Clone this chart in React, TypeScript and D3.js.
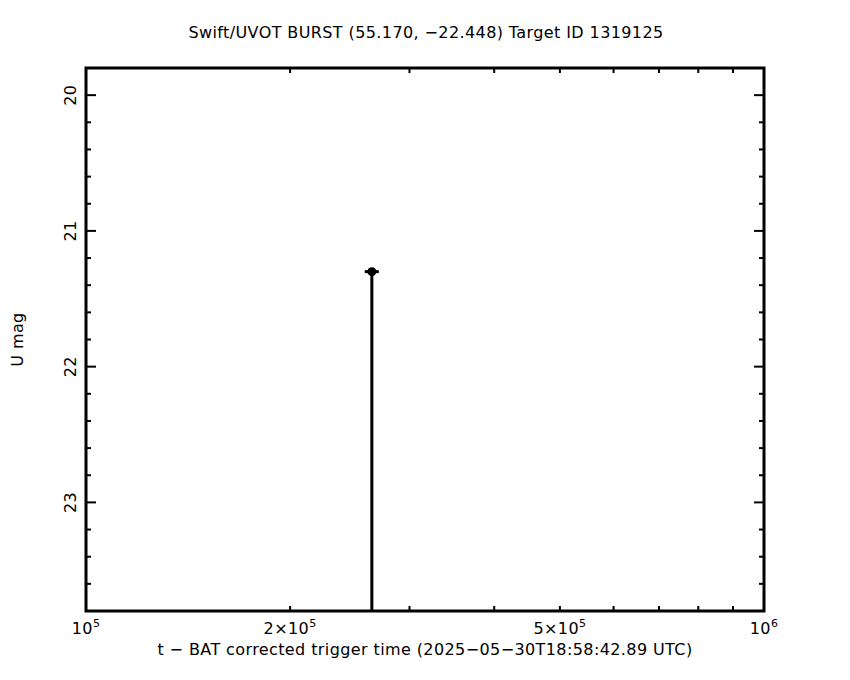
import * as d3 from 'd3';
import React, { useRef, useEffect } from 'react';

const title = "Swift/UVOT BURST (55.170, \u221222.448) Target ID 1319125";
const xTitle = "t \u2212 BAT corrected trigger time (2025\u221205\u221230T18:58:42.89 UTC)";
const yTitle = "U mag";

const xDomain = [1e5, 1e6];
const yDomain = [19.8, 23.8];
const xMajor = [
  { v: 1e5, m: "", e: "5" },
  { v: 2e5, m: "2\u00d7", e: "5" },
  { v: 5e5, m: "5\u00d7", e: "5" },
  { v: 1e6, m: "", e: "6" },
];
const yMajor = [20, 21, 22, 23];

// observations
const times = [264000];
const timeErr = [6300];
const mags = [21.3];
const magErrBright = [0.02];
const magErrFaint = [3.0];

function App() {
  const ref = useRef<SVGSVGElement>(null);
  const width = 850, height = 680;

  useEffect(() => {
    const svg = d3.select(ref.current);
    svg.selectAll("*").remove();
    const margin = { top: 68, right: 86, bottom: 69, left: 86 };
    const x = d3.scaleLog().domain(xDomain).range([margin.left, width - margin.right]);
    const y = d3.scaleLinear().domain(yDomain).range([margin.top, height - margin.bottom]);
    const font = "'DejaVu Sans', Verdana, sans-serif";

    svg.append("rect").attr("width", width).attr("height", height).attr("fill", "white");

    const g = svg.append("g").attr("stroke", "black").attr("stroke-width", 2);
    const [x0, x1] = x.range();
    const [y0, y1] = y.range();

    // x ticks (bottom and top), all short
    const xMinor = d3.range(2, 10).map(d => d * 1e5);
    xMinor.forEach(v => {
      g.append("line").attr("x1", x(v)).attr("x2", x(v)).attr("y1", y1).attr("y2", y1 - 5);
      g.append("line").attr("x1", x(v)).attr("x2", x(v)).attr("y1", y0).attr("y2", y0 + 5);
    });

    // y ticks (left and right)
    const yMinor = d3.range(20, 23.81, 0.2).map(v => +v.toFixed(1));
    yMinor.forEach(v => {
      const len = yMajor.includes(v) ? 10 : 5;
      g.append("line").attr("x1", x0).attr("x2", x0 + len).attr("y1", y(v)).attr("y2", y(v));
      g.append("line").attr("x1", x1).attr("x2", x1 - len).attr("y1", y(v)).attr("y2", y(v));
    });

    // frame
    svg.append("rect")
      .attr("x", x0).attr("y", y0).attr("width", x1 - x0).attr("height", y1 - y0)
      .attr("fill", "none").attr("stroke", "black").attr("stroke-width", 3);

    const xl = svg.append("g").attr("font-family", font).attr("font-size", 16)
      .attr("letter-spacing", 0.4).attr("fill", "black");

    // x tick labels
    xMajor.forEach(t => {
      const txt = xl.append("text").attr("x", x(t.v)).attr("y", y1 + 23).attr("text-anchor", "middle");
      txt.append("tspan").text(t.m + "10");
      txt.append("tspan").attr("dy", -7).attr("font-size", 11).text(t.e);
    });

    // y tick labels
    yMajor.forEach(v => {
      xl.append("text")
        .attr("transform", `translate(${x0 - 10},${y(v)}) rotate(-90)`)
        .attr("text-anchor", "middle")
        .text(String(v));
    });

    // titles
    xl.append("text").attr("x", (x0 + x1) / 2).attr("y", y1 + 44).attr("text-anchor", "middle").text(xTitle);
    xl.append("text").attr("x", width / 2 + 1).attr("y", 38).attr("text-anchor", "middle").text(title);
    xl.append("text")
      .attr("transform", `translate(23,${(y0 + y1) / 2}) rotate(-90)`)
      .attr("text-anchor", "middle").text(yTitle);

    // data
    const pts = svg.append("g").attr("stroke", "black").attr("stroke-width", 3);
    times.forEach((t, i) => {
      pts.append("line")
        .attr("x1", x(t - timeErr[i])).attr("x2", x(t + timeErr[i]))
        .attr("y1", y(mags[i])).attr("y2", y(mags[i]));
      pts.append("line")
        .attr("x1", x(t)).attr("x2", x(t))
        .attr("y1", y(mags[i] - magErrBright[i])).attr("y2", Math.min(y(mags[i] + magErrFaint[i]), y1));
      pts.append("circle").attr("cx", x(t)).attr("cy", y(mags[i])).attr("r", 4.5)
        .attr("fill", "black").attr("stroke", "none");
    });
  }, []);

  return (
    <svg ref={ref} width={width} height={height}
      style={{ position: "absolute", left: 0, top: 0, display: "block" }} />
  );
}

export default App;
